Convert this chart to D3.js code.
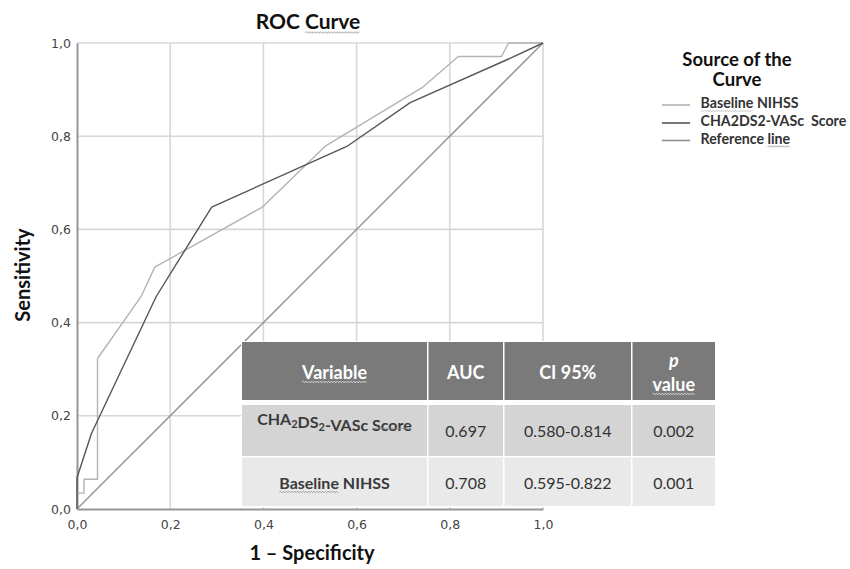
<!DOCTYPE html>
<html><head><meta charset="utf-8">
<script src="https://cdn.jsdelivr.net/npm/d3@7"></script>
<style>
html,body{margin:0;padding:0;background:#fff;}
svg{display:block;}
</style></head>
<body>
<svg id="chart" width="850" height="569"></svg>
<script>
// ---------- data ----------
const axisTicks = [0, 0.2, 0.4, 0.6, 0.8, 1.0];
const tickLabels = ["0,0", "0,2", "0,4", "0,6", "0,8", "1,0"];

const nihssFpr = [0, 0, 0.015, 0.015, 0.044, 0.044, 0.137, 0.167, 0.398, 0.532, 0.743, 0.818, 0.911, 0.926, 1];
const nihssTpr = [0, 0.034, 0.034, 0.064, 0.064, 0.323, 0.455, 0.519, 0.648, 0.778, 0.906, 0.971, 0.971, 1, 1];

const chaFpr = [0, 0, 0.031, 0.17, 0.289, 0.579, 0.715, 0.936, 1];
const chaTpr = [0, 0.067, 0.162, 0.456, 0.648, 0.778, 0.872, 0.97, 1];

const refFpr = [0, 1];
const refTpr = [0, 1];

const legendTitle = ["Source of the", "Curve"];
const legendLabels = ["Baseline NIHSS", "CHA2DS2-VASc  Score", "Reference line"];

const tableHeaders = ["Variable", "AUC", "CI 95%", "p value"];
const tableVariables = ["CHA2DS2-VASc Score", "Baseline NIHSS"];
const aucValues = ["0.697", "0.708"];
const ciValues = ["0.580-0.814", "0.595-0.822"];
const pValues = ["0.002", "0.001"];

// ---------- layout ----------
const plot = {left: 77, right: 543, top: 43, bottom: 509};
const colLight = "#b3b3b3", colDark = "#565656", colRef = "#8e8e8e";
const FONT = "Lato, 'Open Sans', sans-serif";

const svg = d3.select("#chart");
const x = d3.scaleLinear().domain([0, 1]).range([plot.left, plot.right]);
const y = d3.scaleLinear().domain([0, 1]).range([plot.bottom, plot.top]);

function wavy(parent, x0, x1, yy, color) {
  let d = `M${x0},${yy}`; let up = true;
  for (let xx = x0 + 1.4; xx <= x1 + 0.01; xx += 1.4) {
    d += `L${xx.toFixed(2)},${(yy + (up ? -0.8 : 0.8)).toFixed(2)}`; up = !up;
  }
  parent.append("path").attr("d", d).attr("fill", "none")
    .attr("stroke", color).attr("stroke-width", 0.7);
}
function underlineWord(textSel, start, len, yy, color) {
  const node = textSel.node();
  const x0 = node.getStartPositionOfChar(start).x;
  const x1 = node.getEndPositionOfChar(start + len - 1).x;
  wavy(d3.select(node.parentNode), x0, x1, yy, color);
}

// ---------- grid ----------
const grid = svg.append("g");
grid.selectAll("line.v").data(axisTicks.filter(d => d > 0)).join("line")
  .attr("class", "v")
  .attr("x1", d => x(d)).attr("x2", d => x(d))
  .attr("y1", y(0)).attr("y2", y(1))
  .attr("stroke", "#d7d7d7").attr("stroke-width", 1.6);
grid.selectAll("line.h").data(axisTicks.filter(d => d > 0)).join("line")
  .attr("class", "h")
  .attr("y1", d => y(d)).attr("y2", d => y(d))
  .attr("x1", x(0)).attr("x2", x(1))
  .attr("stroke", "#d7d7d7").attr("stroke-width", 1.6);

// ---------- axes ----------
const fmt = d => tickLabels[axisTicks.indexOf(d)];
const xAxis = svg.append("g").attr("transform", `translate(0,${plot.bottom})`)
  .call(d3.axisBottom(x).tickValues(axisTicks).tickFormat(fmt).tickSize(0).tickSizeOuter(0).tickPadding(11));
const yAxis = svg.append("g").attr("transform", `translate(${plot.left},0)`)
  .call(d3.axisLeft(y).tickValues(axisTicks).tickFormat(fmt).tickSize(0).tickSizeOuter(0).tickPadding(6));
[xAxis, yAxis].forEach(a => {
  a.select(".domain").attr("stroke", "#969696").attr("stroke-width", 2);
  a.selectAll("text").attr("font-family", "'DejaVu Sans', Verdana, sans-serif")
    .attr("font-size", 12.5).attr("fill", "#444");
});

// ---------- curves ----------
const line = d3.line().x(d => x(d[0])).y(d => y(d[1]));
const curves = [
  {fpr: refFpr, tpr: refTpr, color: colRef, w: 1.3},
  {fpr: nihssFpr, tpr: nihssTpr, color: colLight, w: 1.4},
  {fpr: chaFpr, tpr: chaTpr, color: colDark, w: 1.4}
];
svg.append("g").selectAll("path").data(curves).join("path")
  .attr("d", c => line(d3.zip(c.fpr, c.tpr)))
  .attr("fill", "none").attr("stroke", c => c.color).attr("stroke-width", c => c.w)
  .attr("stroke-linejoin", "round");

// ---------- titles ----------
const titles = svg.append("g").attr("font-family", FONT).attr("font-weight", 700).attr("fill", "#111");
const tt = titles.append("text").attr("x", 308).attr("y", 29).attr("text-anchor", "middle")
  .attr("font-size", 21).text("ROC Curve");
underlineWord(tt, 4, 5, 32.5, "#8a8a8a");

titles.append("text").attr("transform", `translate(30,${275}) rotate(-90)`)
  .attr("text-anchor", "middle").attr("font-size", 20).text("Sensitivity");
titles.append("text").attr("x", 312).attr("y", 560).attr("text-anchor", "middle")
  .attr("font-size", 20).text("1 \u2013 Specificity");

// ---------- legend ----------
const lg = svg.append("g").attr("font-family", FONT).attr("font-weight", 700);
lg.append("text").attr("x", 737).attr("y", 65.5).attr("text-anchor", "middle")
  .attr("font-size", 18.5).attr("fill", "#111").text(legendTitle[0]);
lg.append("text").attr("x", 737).attr("y", 86).attr("text-anchor", "middle")
  .attr("font-size", 18.5).attr("fill", "#111").text(legendTitle[1]);
const legendColors = [colLight, colDark, colRef];
const legendBase = [108, 126, 143.5];
legendLabels.forEach((lab, i) => {
  lg.append("line").attr("x1", 662).attr("x2", 690)
    .attr("y1", legendBase[i] - 3).attr("y2", legendBase[i] - 3)
    .attr("stroke", legendColors[i]).attr("stroke-width", 1.6);
  const t = lg.append("text").attr("x", 700.5).attr("y", legendBase[i])
    .attr("font-size", 14.2).attr("fill", "#333").attr("xml:space", "preserve").text(lab);
  if (i === 0) underlineWord(t, 0, 8, legendBase[i] + 3, "#b0b0b0");
  if (i === 2) underlineWord(t, 10, 4, legendBase[i] + 3, "#8a8a8a");
});

// ---------- table ----------
const cols = [[242, 427], [428.5, 503], [504.5, 631], [632.5, 715]];
const rowsY = [[342, 400], [405, 456], [457.5, 506]];
const rowFill = ["#7a7a7a", "#d4d4d4", "#e9e9e9"];
const tb = svg.append("g").attr("font-family", FONT);
tb.append("rect").attr("x", cols[0][0] - 1).attr("y", rowsY[0][0] - 1)
  .attr("width", cols[3][1] - cols[0][0] + 2).attr("height", rowsY[2][1] - rowsY[0][0] + 2)
  .attr("fill", "#fff");
rowsY.forEach((r, ri) => {
  cols.forEach(c => {
    tb.append("rect").attr("x", c[0]).attr("y", r[0])
      .attr("width", c[1] - c[0]).attr("height", r[1] - r[0]).attr("fill", rowFill[ri]);
  });
});
const cx = cols.map(c => (c[0] + c[1]) / 2);
// header
const hdr = tb.append("g").attr("font-weight", 700).attr("fill", "#fff").attr("font-size", 18).attr("text-anchor", "middle");
const hv = hdr.append("text").attr("x", cx[0]).attr("y", 378.5).text(tableHeaders[0]);
underlineWord(hv, 0, 8, 382, "#f4f4f4");
hdr.append("text").attr("x", cx[1]).attr("y", 378.5).text(tableHeaders[1]);
hdr.append("text").attr("x", cx[2]).attr("y", 378.5).text(tableHeaders[2]);
const pParts = tableHeaders[3].split(" ");
hdr.append("text").attr("x", cx[3]).attr("y", 367).attr("font-style", "italic").text(pParts[0]);
const hvv = hdr.append("text").attr("x", cx[3]).attr("y", 391).text(pParts[1]);
underlineWord(hvv, 0, 5, 394, "#f4f4f4");

// body rows
const rowLabelBase = [425, 488.5];
const rowValueBase = [436.5, 488.5];
tableVariables.forEach((v, i) => {
  const lt = tb.append("text").attr("x", cx[0]).attr("y", rowLabelBase[i])
    .attr("text-anchor", "middle").attr("font-weight", 700).attr("font-size", 16).attr("fill", "#3a3a3a");
  if (v.startsWith("CHA2DS2")) {
    // CHA₂DS₂-VASc Score with real subscripts
    const parts = [["CHA", 0], ["2", 1], ["DS", 0], ["2", 1], ["-VASc Score", 0]];
    parts.forEach(p => {
      lt.append("tspan").attr("font-size", p[1] ? 11 : 16)
        .attr("dy", p[1] ? 3 : 0).text(p[0]);
      if (p[1]) lt.append("tspan").attr("dy", -3).text("");
    });
    const full = lt.text();
    underlineWord(lt, full.indexOf("Score"), 5, rowLabelBase[i] + 3.5, "#8a8a8a");
  } else {
    lt.text(v);
    underlineWord(lt, 0, 8, rowLabelBase[i] + 3.5, "#8a8a8a");
  }
  [aucValues[i], ciValues[i], pValues[i]].forEach((val, j) => {
    tb.append("text").attr("x", cx[j + 1]).attr("y", rowValueBase[i])
      .attr("text-anchor", "middle").attr("font-size", 16).attr("fill", "#333").text(val);
  });
});
</script>
</body></html>
